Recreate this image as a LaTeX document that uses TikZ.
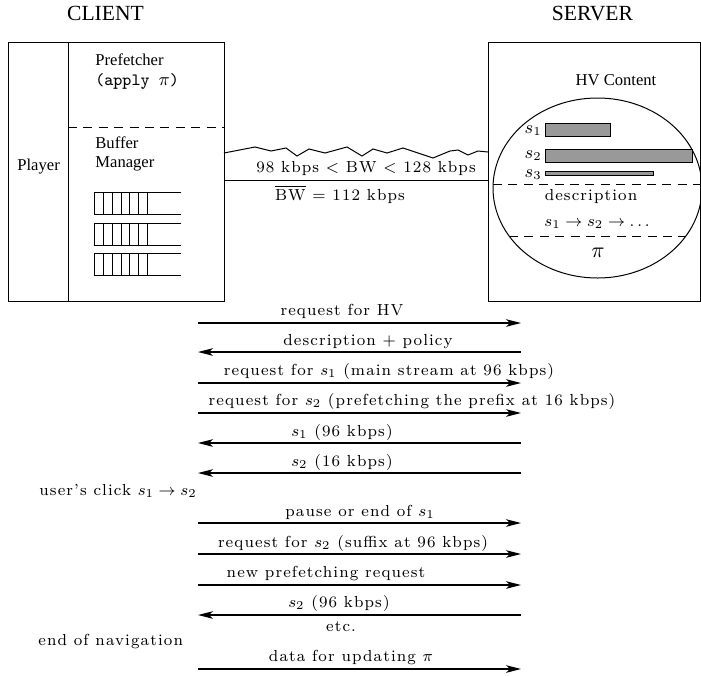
\documentclass[tikz,border=0pt]{standalone}
\usepackage{fontspec}
\usetikzlibrary{arrows.meta,shapes.geometric}
\newfontfamily\tmsfam{Liberation Serif}
\newfontfamily\msgfam{lmroman8-regular.otf}[LetterSpace=7,Ligatures=TeX]
\newcommand\msgfont{\msgfam\fontsize{8}{9.6}\selectfont}
\newcommand\aptt{\fontsize{8.6}{10}\selectfont\ttfamily}
\begin{document}
\begin{tikzpicture}[x=0.5pt,y=-0.5pt,
  boxline/.style={draw,line width=0.5pt},
  msg/.style={font=\msgfont,inner sep=0pt,anchor=base},
  tlab/.style={font=\tmsfam\fontsize{8.3}{10}\selectfont,inner sep=0pt,anchor=base west},
  head/.style={font=\tmsfam\fontsize{10.8}{12}\selectfont,inner sep=0pt,anchor=base},
  arr/.style={line width=0.7pt,-{Stealth[length=7.5pt,width=3.8pt,inset=2pt]}},
  dsh/.style={line width=0.5pt,dash pattern=on 4.5pt off 3.2pt},
  bar/.style={draw,line width=0.5pt,fill=black!40}]
\useasboundingbox (0,0) rectangle (701,675);

% headings
\node[head] (client) at (105.5,20) {CLIENT};
\node[head] (server) at (592.5,20) {SERVER};

% client box
\node[boxline,minimum width=108pt,minimum height=129.5pt,inner sep=0pt,outer sep=0pt] (cbox) at (116,171.5) {};
\coordinate (divt) at (68,42);
\coordinate (divb) at (68,301);
\draw[line width=0.5pt] (divt) -- (divb);
\coordinate (cdl) at (68,127);
\coordinate (cdr) at (224,127);
\draw[dsh] (cdl) -- (cdr);
\node[tlab] (pref) at (95,65) {Prefetcher};
\node[font=\aptt,inner sep=0pt,anchor=base west] (apply) at (95,85) {(apply $\pi$)};
\node[tlab] (buf) at (95,148) {Buffer};
\node[tlab] (man) at (95,167) {Manager};
\node[tlab] (player) at (17,170) {Player};

% buffers
\foreach \t in {192,223,253} {
  \draw[line width=0.5pt] (181,\t) -- (94,\t) -- (94,\t+22) -- (181,\t+22);
  \foreach \xx in {103,112,121,129,138,147} {
    \draw[line width=0.5pt] (\xx,\t) -- (\xx,\t+22);
  }
}

% server box
\node[boxline,minimum width=106pt,minimum height=129.5pt,inner sep=0pt,outer sep=0pt] (sbox) at (594,171.5) {};
\node[tlab,anchor=base] (hvc) at (616,85) {HV Content};
\node[draw,line width=0.5pt,ellipse,minimum width=104.5pt,minimum height=90pt,inner sep=0pt] (hv) at (597.5,188) {};
\node[bar,minimum width=32.5pt,minimum height=6.5pt,inner sep=0pt,anchor=north west] (b1) at (545,123) {};
\node[bar,minimum width=73.5pt,minimum height=6.5pt,inner sep=0pt,anchor=north west] (b2) at (545,149) {};
\node[bar,minimum width=54pt,minimum height=2pt,inner sep=0pt,anchor=north west] (b3) at (545,171) {};
\node[font=\fontsize{9}{10}\selectfont,inner sep=0pt,anchor=base east] (s1) at (542,133) {$s_1$};
\node[font=\fontsize{9}{10}\selectfont,inner sep=0pt,anchor=base east] (s2) at (542,158) {$s_2$};
\node[font=\fontsize{9}{10}\selectfont,inner sep=0pt,anchor=base east] (s3) at (542,177) {$s_3$};
\coordinate (e1l) at (493,184);
\coordinate (e1r) at (702,184);
\draw[dsh] (e1l) -- (e1r);
\coordinate (e2l) at (509,236);
\coordinate (e2r) at (686,236);
\draw[dsh] (e2l) -- (e2r);
\node[msg] (desc) at (591,200) {description};
\node[msg,font=\fontsize{8.5}{10}\selectfont] (seq) at (597,226) {$s_1 \to s_2 \to \ldots$};
\node[inner sep=0pt,anchor=base,font=\fontsize{11}{12}\selectfont] (pi) at (598,257) {$\pi$};

% link
\coordinate (zl) at (224,153);
\coordinate (zr) at (488,152);
\draw[line width=0.5pt] (zl) -- (255,147) -- (271,151) -- (286,148) -- (297,156) -- (309,149) -- (325,153) -- (347,147) -- (362,156) -- (373,149) -- (387,153) -- (403,148) -- (433,158) -- (450,151) -- (458,150) -- (468,155) -- (478,151) -- (zr);
\coordinate (ll) at (224,180);
\coordinate (lr) at (488,180);
\draw[line width=0.5pt] (ll) -- (lr);
\node[msg] (bwr) at (366,172) {98 kbps $<$ BW $<$ 128 kbps};
\node[msg] (bwm) at (340,200) {$\overline{\mbox{BW}}$ = 112 kbps};

% message coordinates
\foreach \i/\y in {1/323,2/352,3/383,4/413,5/443,6/473,7/523,8/554,9/585,10/615,11/669} {
  \coordinate (c\i) at (198,\y);
  \coordinate (v\i) at (521,\y);
}
\draw[arr] (c1) -- (v1);
\draw[arr] (v2) -- (c2);
\draw[arr] (c3) -- (v3);
\draw[arr] (c4) -- (v4);
\draw[arr] (v5) -- (c5);
\draw[arr] (v6) -- (c6);
\draw[arr] (c7) -- (v7);
\draw[arr] (c8) -- (v8);
\draw[arr] (c9) -- (v9);
\draw[arr] (v10) -- (c10);
\draw[arr] (c11) -- (v11);

\node[msg] (m1) at (342,315) {request for HV};
\node[msg] (m2) at (368,345) {description + policy};
\node[msg] (m3) at (389,375) {request for $s_1$ (main stream at 96 kbps)};
\node[msg] (m4) at (412,405) {request for $s_2$ (prefetching the prefix at 16 kbps)};
\node[msg] (m5) at (342,436) {$s_1$ (96 kbps)};
\node[msg] (m6) at (342,466) {$s_2$ (16 kbps)};
\node[msg,anchor=base west] (click) at (39,495) {user's click $s_1 \to s_2$};
\node[msg] (m7) at (360,516) {pause or end of $s_1$};
\node[msg] (m8) at (353,547) {request for $s_2$ (suffix at 96 kbps)};
\node[msg] (m9) at (326,577) {new prefetching request};
\node[msg] (m10) at (339,607) {$s_2$ (96 kbps)};
\node[msg] (etc) at (341,631) {etc.};
\node[msg,anchor=base west] (endnav) at (38,645) {end of navigation};
\node[msg] (m11) at (351,661) {data for updating $\pi$};
\end{tikzpicture}
\end{document}
